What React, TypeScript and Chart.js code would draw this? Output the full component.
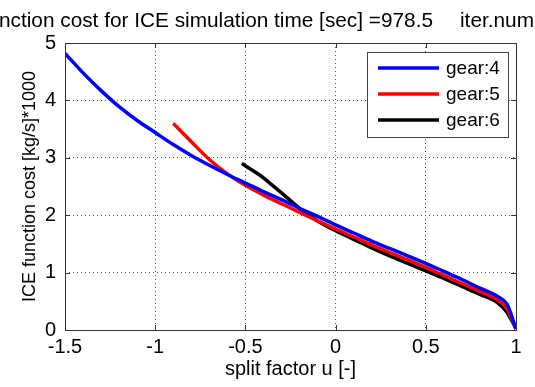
import React, { useEffect, useRef } from "react";
import { Chart, registerables } from "chart.js";

Chart.register(...registerables);

const titleLeft = "function cost for ICE simulation time [sec] =978.5";
const titleRight = "iter.number";
const xAxisTitle = "split factor u [-]";
const yAxisTitle = "ICE function cost [kg/s]*1000";

const xTickLabels = ["-1.5", "-1", "-0.5", "0", "0.5", "1"];
const yTickLabels = ["0", "1", "2", "3", "4", "5"];

const gear4U = [-1.5, -1.4, -1.3, -1.2, -1.1, -1.0, -0.9, -0.8, -0.7, -0.6, -0.5, -0.4, -0.3, -0.2, -0.1, 0, 0.1, 0.2, 0.3, 0.4, 0.5, 0.6, 0.7, 0.8, 0.9, 0.95, 1.0];
const gear4Cost = [4.82, 4.48, 4.17, 3.89, 3.65, 3.44, 3.23, 3.04, 2.87, 2.71, 2.56, 2.41, 2.27, 2.12, 1.98, 1.83, 1.69, 1.55, 1.42, 1.29, 1.16, 1.02, 0.88, 0.73, 0.58, 0.45, 0.02];

const gear5U = [-0.9, -0.8, -0.7, -0.6, -0.5, -0.4, -0.3, -0.2, -0.1, 0, 0.1, 0.2, 0.3, 0.4, 0.5, 0.6, 0.7, 0.8, 0.9, 0.95, 1.0];
const gear5Cost = [3.6, 3.28, 2.97, 2.72, 2.52, 2.35, 2.2, 2.05, 1.9, 1.76, 1.62, 1.48, 1.35, 1.22, 1.09, 0.95, 0.81, 0.67, 0.52, 0.37, 0.02];

const gear6U = [-0.52, -0.45, -0.4, -0.35, -0.3, -0.2, -0.1, 0, 0.1, 0.2, 0.3, 0.4, 0.5, 0.6, 0.7, 0.8, 0.9, 0.95, 1.0];
const gear6Cost = [2.9, 2.76, 2.65, 2.52, 2.39, 2.12, 1.9, 1.73, 1.58, 1.43, 1.29, 1.16, 1.03, 0.9, 0.76, 0.62, 0.47, 0.31, 0.02];

const seriesLabels = ["gear:4", "gear:5", "gear:6"];
const seriesColors = ["#0000ff", "#ff0000", "#000000"];

const FONT = "Liberation Sans, Arial, sans-serif";

const toPoints = (u: number[], c: number[]) => u.map((x, i) => ({ x, y: c[i] }));

const decorPlugin = {
  id: "decor",
  afterDraw(chart: any) {
    const { ctx, chartArea } = chart;
    const { left, right, top, bottom } = chartArea;
    ctx.save();
    // frame
    ctx.strokeStyle = "#333";
    ctx.lineWidth = 1;
    ctx.setLineDash([]);
    ctx.strokeRect(Math.round(left) + 0.5, Math.round(top) + 0.5, Math.round(right - left), Math.round(bottom - top));
    // inward ticks
    const xs = chart.scales.x;
    const ys = chart.scales.y;
    const tl = 5;
    ctx.beginPath();
    xs.ticks.forEach((t: any) => {
      const px = Math.round(xs.getPixelForValue(t.value)) + 0.5;
      ctx.moveTo(px, bottom);
      ctx.lineTo(px, bottom - tl);
      ctx.moveTo(px, top);
      ctx.lineTo(px, top + tl);
    });
    ys.ticks.forEach((t: any) => {
      const py = Math.round(ys.getPixelForValue(t.value)) + 0.5;
      ctx.moveTo(left, py);
      ctx.lineTo(left + tl, py);
      ctx.moveTo(right, py);
      ctx.lineTo(right - tl, py);
    });
    ctx.stroke();

    // legend
    const lx = 367, ly = 52, lw = 141, lh = 85;
    ctx.fillStyle = "#ffffff";
    ctx.fillRect(lx, ly, lw, lh);
    ctx.strokeStyle = "#444";
    ctx.strokeRect(lx + 0.5, ly + 0.5, lw, lh);
    ctx.font = `19px ${FONT}`;
    ctx.textBaseline = "middle";
    ctx.textAlign = "left";
    chart.data.datasets.forEach((ds: any, i: number) => {
      const yy = ly + 16 + i * 26;
      ctx.strokeStyle = ds.borderColor;
      ctx.lineWidth = 3.5;
      ctx.beginPath();
      ctx.moveTo(378, yy);
      ctx.lineTo(439, yy);
      ctx.stroke();
      ctx.fillStyle = "#000";
      ctx.fillText(ds.label, 446, yy + 1);
    });

    // title (clipped by canvas edges)
    ctx.fillStyle = "#000";
    ctx.font = `20.8px ${FONT}`;
    ctx.textBaseline = "alphabetic";
    ctx.textAlign = "right";
    ctx.fillText(titleLeft, 433, 27);
    ctx.textAlign = "left";
    ctx.fillText(titleRight, 460, 27);

    // axis titles
    ctx.font = `20px ${FONT}`;
    ctx.textAlign = "center";
    ctx.fillText(xAxisTitle, (left + right) / 2, 375);
    ctx.save();
    ctx.translate(35, (top + bottom) / 2);
    ctx.rotate(-Math.PI / 2);
    ctx.font = `18px ${FONT}`;
    ctx.fillText(yAxisTitle, 0, 0);
    ctx.restore();
    ctx.restore();
  },
};

export default function App() {
  const ref = useRef<HTMLCanvasElement | null>(null);
  useEffect(() => {
    if (!ref.current) return;
    const common = { borderWidth: 3.5, pointRadius: 0, cubicInterpolationMode: "monotone" as const, fill: false };
    const chart = new Chart(ref.current, {
      type: "line",
      data: {
        datasets: [
          { label: seriesLabels[0], data: toPoints(gear4U, gear4Cost), borderColor: seriesColors[0], backgroundColor: seriesColors[0], ...common },
          { label: seriesLabels[1], data: toPoints(gear5U, gear5Cost), borderColor: seriesColors[1], backgroundColor: seriesColors[1], ...common },
          { label: seriesLabels[2], data: toPoints(gear6U, gear6Cost), borderColor: seriesColors[2], backgroundColor: seriesColors[2], ...common },
        ],
      },
      options: {
        animation: false,
        responsive: false,
        maintainAspectRatio: false,
        layout: { padding: { top: 43, right: 19, left: 0, bottom: 0 } },
        plugins: { legend: { display: false }, title: { display: false }, tooltip: { enabled: false } },
        scales: {
          x: {
            type: "linear",
            min: -1.5,
            max: 1,
            afterFit: (s: any) => { s.height = 57; },
            ticks: {
              stepSize: 0.5,
              color: "#000",
              font: { family: FONT, size: 20 },
              padding: 5,
              maxRotation: 0,
              autoSkip: false,
              callback: (_v: any, i: number) => xTickLabels[i],
            },
            grid: { color: "#555", lineWidth: 1, drawTicks: false },
            border: { display: false, dash: [1, 3] },
          },
          y: {
            type: "linear",
            min: 0,
            max: 5,
            afterFit: (s: any) => { s.width = 65; },
            ticks: {
              stepSize: 1,
              color: "#000",
              font: { family: FONT, size: 20 },
              padding: 9,
              autoSkip: false,
              callback: (_v: any, i: number) => yTickLabels[i],
            },
            grid: { color: "#555", lineWidth: 1, drawTicks: false },
            border: { display: false, dash: [1, 3] },
          },
        },
      },
      plugins: [decorPlugin],
    });
    return () => chart.destroy();
  }, []);
  return (
    <div style={{ position: "fixed", left: 0, top: 0, width: 535, height: 387, background: "#fff" }}>
      <canvas ref={ref} width={535} height={387} style={{ width: 535, height: 387 }} />
    </div>
  );
}
